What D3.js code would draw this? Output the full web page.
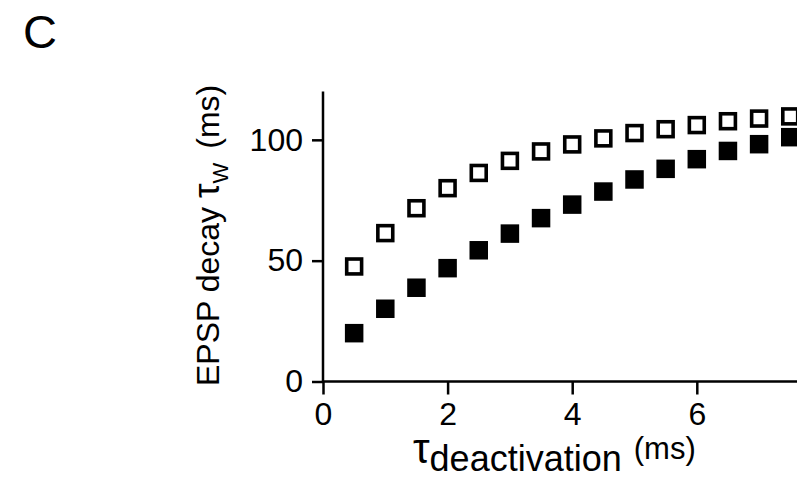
<!DOCTYPE html>
<html>
<head>
<meta charset="utf-8">
<script src="https://cdn.jsdelivr.net/npm/d3@7/dist/d3.min.js"></script>
<style>
  html, body { margin: 0; padding: 0; background: #fff; }
  svg { display: block; }
  text { font-family: "Liberation Sans", Arial, Helvetica, sans-serif; fill: #000; }
</style>
</head>
<body>
<svg id="chart" width="797" height="480"></svg>
<script>
// ---- data ----
const tauDeact = [0.5, 1.0, 1.5, 2.0, 2.5, 3.0, 3.5, 4.0, 4.5, 5.0, 5.5, 6.0, 6.5, 7.0, 7.5];
const openSeries = [47.6, 61.4, 71.7, 80.0, 86.3, 91.3, 95.2, 98.1, 100.6, 102.8, 104.4, 106.1, 107.7, 108.8, 109.7];
const filledSeries = [20.0, 30.1, 38.8, 46.9, 54.3, 61.2, 67.6, 73.2, 78.6, 83.6, 88.0, 92.0, 95.4, 98.2, 101.1];
const xTicks = [0, 2, 4, 6];
const yTicks = [0, 50, 100];

const svg = d3.select("#chart");

const x = d3.scaleLinear().domain([0, 8]).range([323, 821.4]);
const y = d3.scaleLinear().domain([0, 120]).range([381.5, 91.5]);

// panel letter
svg.append("text").attr("x", 23).attr("y", 48).attr("font-size", 47).text("C");

// axes
const xAxis = svg.append("g").attr("transform", `translate(0,${y(0)})`)
  .call(d3.axisBottom(x).tickValues(xTicks).tickSize(13).tickSizeOuter(0).tickPadding(8).tickFormat(d3.format("d")));
const yAxis = svg.append("g").attr("transform", `translate(${x(0)},0)`)
  .call(d3.axisLeft(y).tickValues(yTicks).tickSize(11).tickSizeOuter(0).tickPadding(9).tickFormat(d3.format("d")));

[xAxis, yAxis].forEach(g => {
  g.select(".domain").attr("stroke", "#000").attr("stroke-width", 2.5);
  g.selectAll(".tick line").attr("stroke", "#000").attr("stroke-width", 2.5);
  g.selectAll(".tick text").attr("font-size", 32).attr("fill", "#000")
    .attr("font-family", "'Liberation Sans', Arial, Helvetica, sans-serif");
});
// extend axis lines
xAxis.select(".domain").attr("d", `M${x(0)},0H${x(8)}`);
yAxis.select(".domain").attr("d", `M0,${y(0)}V${y(120)}`);

// markers
const S = 18.5;
svg.append("g").selectAll("rect").data(filledSeries).join("rect")
  .attr("x", (d, i) => x(tauDeact[i]) - S / 2)
  .attr("y", d => y(d) - S / 2)
  .attr("width", S).attr("height", S)
  .attr("fill", "#000");

const sw = 3.6;
svg.append("g").selectAll("rect").data(openSeries).join("rect")
  .attr("x", (d, i) => x(tauDeact[i]) - S / 2 + sw / 2)
  .attr("y", d => y(d) - S / 2 + sw / 2)
  .attr("width", S - sw).attr("height", S - sw)
  .attr("fill", "#fff").attr("stroke", "#000").attr("stroke-width", sw);

// y axis title
const yt = svg.append("text").attr("transform", "translate(219,386) rotate(-90)").attr("font-size", 32);
yt.append("tspan").text("EPSP decay ");
yt.append("tspan").text("τ").attr("font-size", 37);
yt.append("tspan").text("W").attr("font-size", 22).attr("dy", 9);
yt.append("tspan").text(" (ms)").attr("dy", -9).attr("dx", 5);

// x axis title
const xt = svg.append("text").attr("x", 413).attr("y", 463).attr("font-size", 36);
xt.append("tspan").text("τ").attr("font-size", 42);
xt.append("tspan").text("deactivation").attr("font-size", 36).attr("dy", 8);
xt.append("tspan").text("(ms)").attr("font-size", 31).attr("dy", -12).attr("dx", 12);
</script>
</body>
</html>
